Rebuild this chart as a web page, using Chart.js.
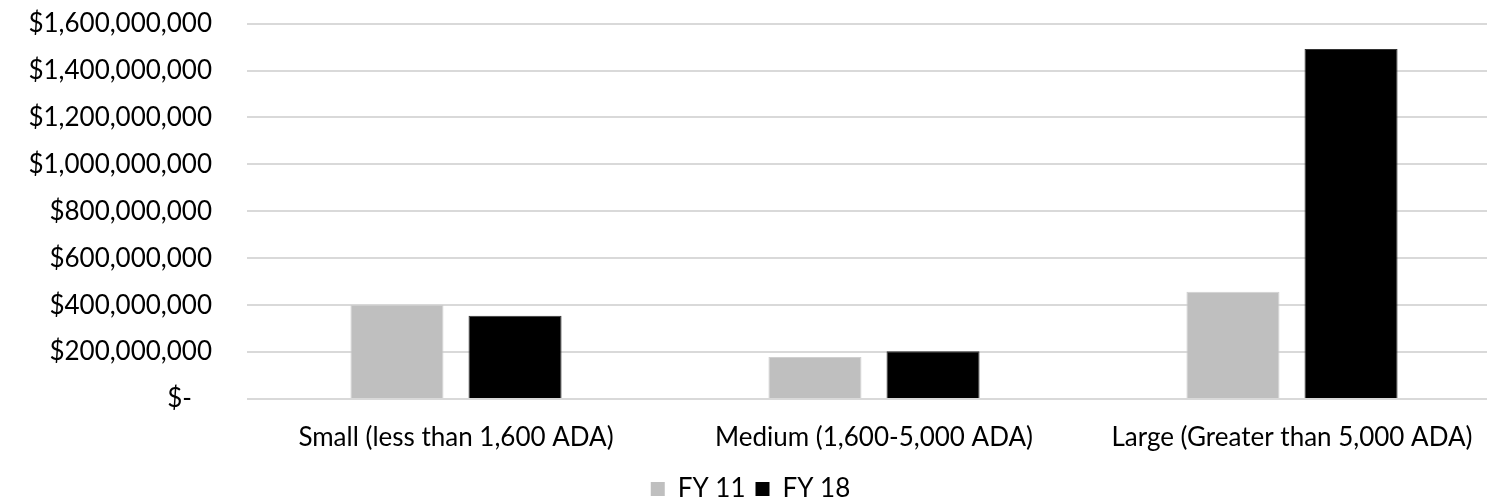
<!DOCTYPE html>
<html>
<head>
<meta charset="utf-8">
<script src="https://cdn.jsdelivr.net/npm/chart.js@4/dist/chart.umd.min.js"></script>
<style>
  html, body { margin: 0; padding: 0; background: #fff; overflow: hidden; }
  #wrap { position: relative; width: 1487px; height: 503px; overflow: hidden; }
  #inner { position: absolute; left: 0; top: -27px; width: 1501px; height: 530px; }
</style>
</head>
<body>
<div id="wrap"><div id="inner"><canvas id="chart"></canvas></div></div>
<script>
// district size groups
const categories = ['Small (less than 1,600 ADA)', 'Medium (1,600-5,000 ADA)', 'Large (Greater than 5,000 ADA)'];
const fy11 = [402000000, 179000000, 457000000];
const fy18 = [355000000, 204000000, 1492000000];
const yTicks = [0, 200000000, 400000000, 600000000, 800000000, 1000000000, 1200000000, 1400000000, 1600000000];

const font = "'Lato', 'DejaVu Sans', sans-serif";
const fontSize = 26;

function money(v) {
  if (v === 0) return '$-   ';
  return '$' + v.toLocaleString('en-US');
}

const ctx = document.getElementById('chart').getContext('2d');
const chart = new Chart(ctx, {
  type: 'bar',
  data: {
    labels: categories,
    datasets: [
      {
        label: 'FY 11',
        data: fy11,
        backgroundColor: '#bfbfbf',
        borderColor: '#d0d0d0',
        borderWidth: 1
      },
      {
        label: 'FY 18',
        data: fy18,
        backgroundColor: '#000000',
        borderColor: '#333333',
        borderWidth: 1
      }
    ]
  },
  options: {
    responsive: true,
    maintainAspectRatio: false,
    animation: false,
    categoryPercentage: 0.565,
    barPercentage: 0.788,
    layout: { padding: { left: 0, right: 0, top: 0, bottom: -9 } },
    plugins: {
      tooltip: { enabled: false },
      legend: {
        position: 'bottom',
        // keep the legend centred on the visible page width
        align: 'center',
        labels: {
          color: '#000',
          font: { family: font, size: fontSize },
          boxWidth: 14,
          boxHeight: 14,
          padding: 10,
          generateLabels: (c) => c.data.datasets.map((ds, i) => ({
            text: ds.label,
            fillStyle: ds.backgroundColor,
            strokeStyle: ds.backgroundColor,
            lineWidth: 0,
            datasetIndex: i
          }))
        }
      }
    },
    scales: {
      x: {
        afterFit: (axis) => { axis.height = 67; },
        grid: { display: false },
        border: { display: false },
        ticks: {
          color: '#000',
          font: { family: font, size: fontSize },
          padding: 15,
          maxRotation: 0
        }
      },
      y: {
        min: 0,
        max: 1600000000,
        afterBuildTicks: (axis) => { axis.ticks = yTicks.map(v => ({ value: v })); },
        afterFit: (axis) => { axis.width = 247; },
        grid: { color: '#d9d9d9', lineWidth: 2, drawTicks: false },
        border: { display: false },
        ticks: {
          color: '#000',
          font: { family: font, size: fontSize },
          padding: 35,
          callback: (v) => money(v)
        }
      }
    }
  }
});
</script>
</body>
</html>
